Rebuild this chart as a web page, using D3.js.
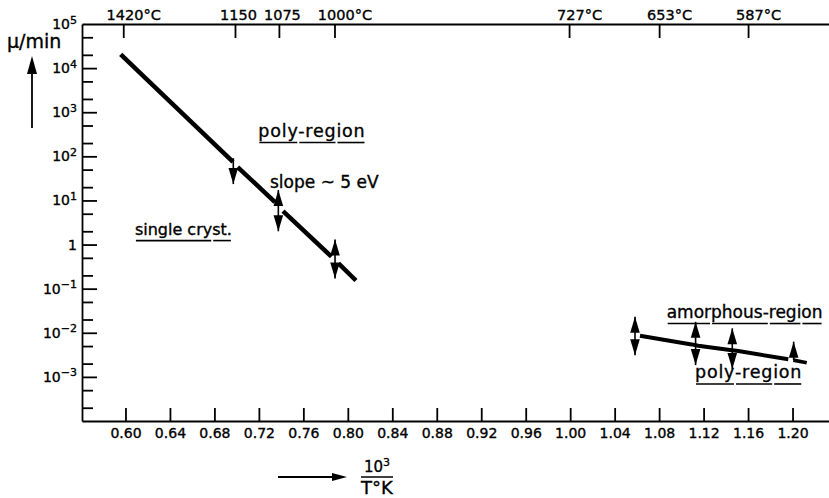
<!DOCTYPE html>
<html>
<head>
<meta charset="utf-8">
<script src="https://cdn.jsdelivr.net/npm/d3@7"></script>
<style>
  body { margin: 0; background: #fff; }
  svg text { font-family: "DejaVu Sans", sans-serif; fill: #000; stroke: #000; stroke-width: 0.35px; }
  .axis path, .axis line { stroke: #000; stroke-width: 1.8; }
</style>
</head>
<body>
<svg id="chart" width="829" height="498"></svg>
<script>
// x: 10^3 / T (1/K), y: growth rate in micron / min (log)
var xTicks = [0.60, 0.64, 0.68, 0.72, 0.76, 0.80, 0.84, 0.88, 0.92, 0.96, 1.00, 1.04, 1.08, 1.12, 1.16, 1.20];
var topTickPos = [0.598, 0.6985, 0.738, 0.788, 0.999, 1.080, 1.160];
var topTickLabels = ["1420°C", "1150", "1075", "1000°C", "727°C", "653°C", "587°C"];
var yMajor = [1e5, 1e4, 1e3, 1e2, 1e1, 1, 1e-1, 1e-2, 1e-3];
var yExp = ["5", "4", "3", "2", "1", "", "−1", "−2", "−3"];
var yMinor = [2e-4, 5e-4, 2e-3, 5e-3, 2e-2, 5e-2, 0.2, 0.5, 2, 5, 20, 50, 200, 500, 2e3, 5e3, 2e4, 5e4];

// high temperature branch, drawn as four pieces (pairs of points)
var crystX = [0.5957, 0.6967, 0.7009, 0.7345, 0.7417, 0.7853, 0.7916, 0.8073];
var crystRate = [2.06e4, 75, 57, 9.2, 5.7, 0.53, 0.375, 0.153];

// low temperature branch
var amorX = [1.0628, 1.1093, 1.1152, 1.1437, 1.1512, 1.1962];
var amorRate = [8.6e-3, 5.45e-3, 5.07e-3, 4.05e-3, 3.85e-3, 2.5e-3];
var amorTailX = [1.2007, 1.2128];
var amorTailRate = [2.4e-3, 2.09e-3];

// transition arrows
var arrowX = [0.697, 0.7375, 0.7885, 1.0583, 1.1128, 1.1458, 1.2010];
var arrowHi = [91, 17.2, 1.3, 0.0231, 0.0177, 0.0126, 6.3e-3];
var arrowLo = [23.5, 2.0, 0.17, 3.1e-3, 1.85e-3, 1.5e-3, 2.4e-3];
var arrowHead = ["down", "both", "both", "both", "both", "both", "up"];

var svg = d3.select("#chart");

var x = d3.scaleLinear().domain([0.5609, 1.2328]).range([82, 829]);
var y = d3.scaleLog().domain([1e-4, 1e5]).range([421, 24]);

// bottom axis
svg.append("g")
  .attr("class", "axis")
  .attr("transform", "translate(0,421)")
  .call(d3.axisBottom(x).tickValues(xTicks).tickSize(-13).tickSizeOuter(0)
    .tickPadding(7).tickFormat(d3.format(".2f")))
  .selectAll("text").style("font-size", "14px");

// top axis, temperatures in Celsius
svg.append("g")
  .attr("class", "axis")
  .attr("transform", "translate(0,24)")
  .call(d3.axisTop(x).tickValues(topTickPos).tickSize(-14).tickSizeOuter(0)
    .tickPadding(4).tickFormat(function(d, i) { return topTickLabels[i]; }))
  .selectAll("text")
    .style("font-size", "14.5px")
    .attr("dx", function(d, i) { return topTickLabels[i].indexOf("°C") > 0 ? 10 : 3; });

// left axis: major and minor ticks
svg.append("g")
  .attr("class", "axis")
  .attr("transform", "translate(82,0)")
  .call(d3.axisLeft(y).tickValues(yMajor.slice(1)).tickSize(-15).tickSizeOuter(0).tickFormat(""));

svg.append("g")
  .attr("class", "axis")
  .attr("transform", "translate(82,0)")
  .call(d3.axisLeft(y).tickValues(yMinor).tickSize(-11).tickSizeOuter(0).tickFormat(""))
  .select(".domain").remove();

// decade labels with exponents
var ylab = svg.append("g").selectAll("text")
  .data(yMajor)
  .enter().append("text")
    .attr("x", 77)
    .attr("y", function(d) { return y(d); })
    .attr("dy", "0.36em")
    .attr("text-anchor", "end")
    .style("font-size", "14px");

ylab.append("tspan").text(function(d, i) { return yExp[i] === "" ? "1" : "10"; });
ylab.append("tspan")
  .attr("dy", "-0.5em")
  .style("font-size", "11px")
  .text(function(d, i) { return yExp[i]; });

// y title and arrow
svg.append("text").attr("x", 7).attr("y", 48).style("font-size", "19px").text("μ/min");
svg.append("line").attr("x1", 32).attr("x2", 32).attr("y1", 128).attr("y2", 70)
  .attr("stroke", "#000").attr("stroke-width", 1.8);
svg.append("path").attr("d", "M32,56 L27,74 L37,74 Z").attr("fill", "#000");

// x title: arrow and fraction
svg.append("line").attr("x1", 278).attr("x2", 334).attr("y1", 477).attr("y2", 477)
  .attr("stroke", "#000").attr("stroke-width", 1.8);
svg.append("path").attr("d", "M347,477 L332,473 L332,481 Z").attr("fill", "#000");
var num = svg.append("text").attr("x", 377).attr("y", 472).attr("text-anchor", "middle")
  .style("font-size", "15px");
num.append("tspan").text("10");
num.append("tspan").attr("dy", "-0.55em").style("font-size", "11px").text("3");
svg.append("line").attr("x1", 361).attr("x2", 393).attr("y1", 477).attr("y2", 477)
  .attr("stroke", "#000").attr("stroke-width", 1.5);
svg.append("text").attr("x", 377).attr("y", 494).attr("text-anchor", "middle")
  .style("font-size", "18px").text("T°K");

// data lines
var line = d3.line()
  .x(function(d) { return x(d[0]); })
  .y(function(d) { return y(d[1]); });

var pieces = [];
for (var i = 0; i < crystX.length; i += 2) {
  pieces.push([[crystX[i], crystRate[i]], [crystX[i + 1], crystRate[i + 1]]]);
}
svg.append("g").selectAll("path")
  .data(pieces)
  .enter().append("path")
    .attr("d", line)
    .attr("fill", "none")
    .attr("stroke", "#000")
    .attr("stroke-width", 4.5);

svg.append("path")
  .attr("d", line(d3.zip(amorX, amorRate)))
  .attr("fill", "none").attr("stroke", "#000")
  .attr("stroke-width", 4).attr("stroke-linejoin", "round");
svg.append("path")
  .attr("d", line(d3.zip(amorTailX, amorTailRate)))
  .attr("fill", "none").attr("stroke", "#000").attr("stroke-width", 3.6);

// arrows
var arr = svg.append("g").selectAll("g")
  .data(arrowX)
  .enter().append("g");

arr.append("line")
  .attr("x1", function(d) { return x(d); })
  .attr("x2", function(d) { return x(d); })
  .attr("y1", function(d, i) { return y(arrowHi[i]); })
  .attr("y2", function(d, i) { return y(arrowLo[i]); })
  .attr("stroke", "#000").attr("stroke-width", 1.6);

arr.each(function(d, i) {
  var g = d3.select(this), px = x(d);
  if (arrowHead[i] !== "down") {
    var t = y(arrowHi[i]);
    g.append("path").attr("fill", "#000")
      .attr("d", "M" + px + "," + t + " L" + (px - 4.8) + "," + (t + 16) + " L" + (px + 4.8) + "," + (t + 16) + " Z");
  }
  if (arrowHead[i] !== "up") {
    var b = y(arrowLo[i]);
    g.append("path").attr("fill", "#000")
      .attr("d", "M" + px + "," + b + " L" + (px - 4.8) + "," + (b - 16) + " L" + (px + 4.8) + "," + (b - 16) + " Z");
  }
});

// region labels, underlined in pieces like the lettering in the original
var notes = [
  { text: "poly-region", parts: ["poly", "-reg", "ion"], x: 0.7195, y: 274, size: 17.5, sp: 0.8 },
  { text: "slope ~ 5 eV", parts: [], x: 0.730, y: 19.1, size: 17, sp: 0 },
  { text: "single cryst.", parts: ["single cry", "st."], x: 0.6085, y: 1.64, size: 16, sp: 0 },
  { text: "amorphous-region", parts: ["amor", "phous-", "regi", "on"], x: 1.0868, y: 0.0216, size: 17, sp: 0 },
  { text: "poly-region", parts: ["poly", "-reg", "ion"], x: 1.1123, y: 9.2e-4, size: 17.5, sp: 0.8 }
];

notes.forEach(function(n) {
  var t = svg.append("text")
    .attr("x", x(n.x)).attr("y", y(n.y))
    .style("font-size", n.size + "px")
    .style("letter-spacing", n.sp + "px")
    .text(n.text);
  var node = t.node(), cur = 0;
  n.parts.forEach(function(p) {
    var idx = n.text.indexOf(p, cur);
    var x0 = x(n.x) + (idx > 0 ? node.getSubStringLength(0, idx) : 0);
    var w = node.getSubStringLength(idx, p.length);
    cur = idx + p.length;
    svg.append("line")
      .attr("x1", x0 + 1).attr("x2", x0 + w - 1)
      .attr("y1", y(n.y) + 5.5).attr("y2", y(n.y) + 5.5)
      .attr("stroke", "#000").attr("stroke-width", 1.6);
  });
});
</script>
</body>
</html>
